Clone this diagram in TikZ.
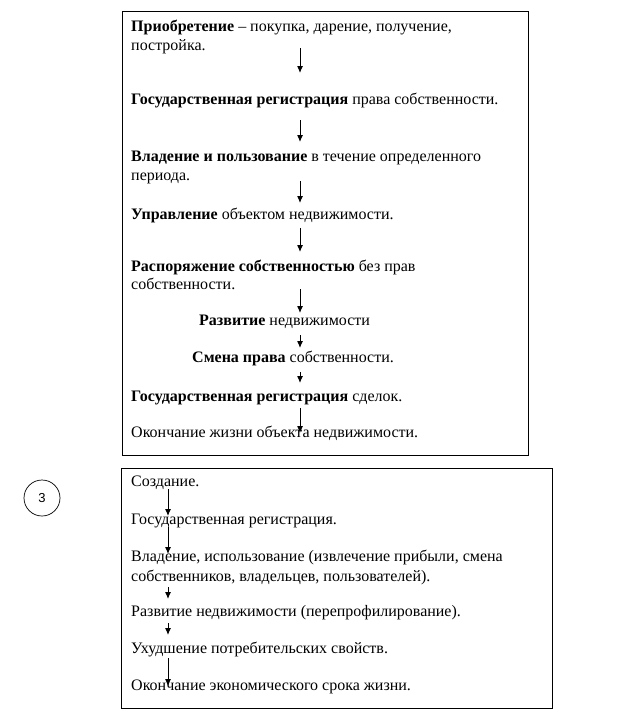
\documentclass[tikz,border=0pt]{standalone}
\usepackage{fontspec}
\setmainfont{Liberation Serif}
\newfontfamily\numfont{Liberation Sans}
\usetikzlibrary{arrows.meta}
\tikzset{
  line/.style={anchor=base west, inner sep=0pt, font=\fontsize{16}{18}\selectfont},
  arr/.style={-{Latex[length=7pt,width=6pt]}, line width=1pt},
  frame/.style={draw, line width=0.8pt}
}
\begin{document}
\begin{tikzpicture}[x=1pt,y=1pt]
      \useasboundingbox (0,0) rectangle (624,-720);

      % upper frame
      \draw[frame] (122,-11) rectangle (528,-455);
      \node[line] (p1) at (131,-31)  {\textbf{Приобретение} – покупка, дарение, получение,};
      \node[line] (p2) at (131,-50)  {постройка.};
      \node[line] (p3) at (131,-104) {\textbf{Государственная регистрация} права собственности.};
      \node[line] (p4) at (131,-161) {\textbf{Владение и пользование} в течение определенного};
      \node[line] (p5) at (131,-180) {периода.};
      \node[line] (p6) at (131,-219) {\textbf{Управление} объектом недвижимости.};
      \node[line] (p7) at (131,-271) {\textbf{Распоряжение собственностью} без прав};
      \node[line] (p8) at (131,-289) {собственности.};
      \node[line] (p9) at (199,-325) {\textbf{Развитие} недвижимости};
      \node[line] (p10) at (192,-362) {\textbf{Смена права} собственности.};
      \node[line] (p11) at (131,-401) {\textbf{Государственная регистрация} сделок.};
      \node[line] (p12) at (131,-437) {Окончание жизни объекта недвижимости.};

      \foreach \n/\a/\b in {1/48/73, 2/120/142, 3/181/203, 4/228/252,
                            5/289/313, 6/335/348, 7/372/383, 8/408/433}
      {
        \coordinate (us\n) at (300,-\a);
        \coordinate (ue\n) at (300,-\b);
        \draw[arr] (us\n) -- (ue\n);
      }

      % lower frame
      \draw[frame] (121,-468) rectangle (552,-708);
      \node[line] (q1) at (131,-486) {Создание.};
      \node[line] (q2) at (131,-524) {Государственная регистрация.};
      \node[line] (q3) at (131,-561) {Владение, использование (извлечение прибыли, смена};
      \node[line] (q4) at (131,-581) {собственников, владельцев, пользователей).};
      \node[line] (q5) at (131,-616) {Развитие недвижимости (перепрофилирование).};
      \node[line] (q6) at (131,-653) {Ухудшение потребительских свойств.};
      \node[line] (q7) at (131,-690) {Окончание экономического срока жизни.};

      \foreach \n/\a/\b in {1/489/516, 2/527/554, 3/587/599, 4/623/635, 5/658/686}
      {
        \coordinate (ls\n) at (168,-\a);
        \coordinate (le\n) at (168,-\b);
        \draw[arr] (ls\n) -- (le\n);
      }

      % number
      \node[draw, circle, minimum size=36pt, inner sep=0pt, line width=0.7pt,
            font=\numfont\fontsize{13}{15}\selectfont] (num) at (42,-498) {3};
\end{tikzpicture}
\end{document}
